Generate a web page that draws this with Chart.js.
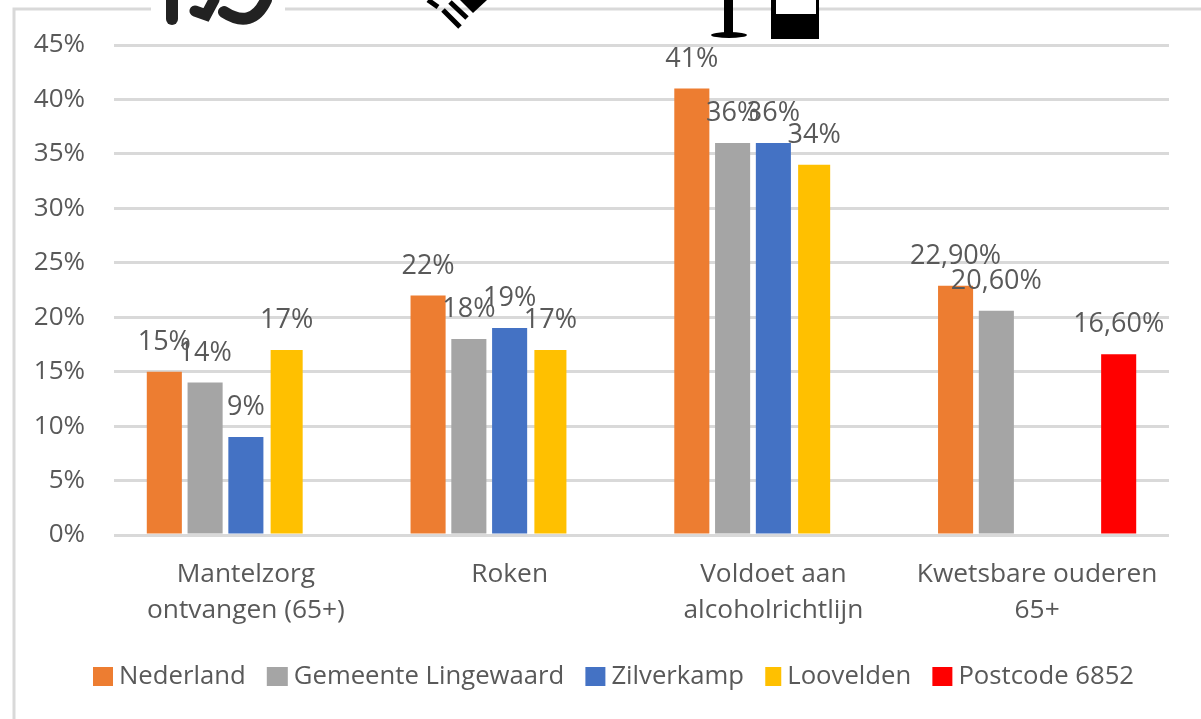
<!DOCTYPE html>
<html><head><meta charset="utf-8">
<style>html,body{margin:0;padding:0;background:#fff}canvas{display:block}#w{width:1201px;height:719px;position:relative}</style>
<script src="https://cdn.jsdelivr.net/npm/chart.js@4"></script></head>
<body><div id="w"><canvas id="c" width="1201" height="719"></canvas></div>
<script>
const categories=[["Mantelzorg","ontvangen (65+)"],"Roken",["Voldoet aan","alcoholrichtlijn"],["Kwetsbare ouderen","65+"]];
const seriesNames=["Nederland","Gemeente Lingewaard","Zilverkamp","Loovelden","Postcode 6852"];
const seriesColors=["#ED7D31","#A5A5A5","#4472C4","#FFC000","#FF0000"];
const nederland=[15,22,41,22.9];
const lingewaard=[14,18,36,20.6];
const zilverkamp=[9,19,36,null];
const loovelden=[17,17,34,null];
const postcode=[null,null,null,16.6];
const labelTexts=[["15%","22%","41%","22,90%"],["14%","18%","36%","20,60%"],["9%","19%","36%",""],["17%","17%","34%",""],["","","","16,60%"]];
const yTicks=[0,5,10,15,20,25,30,35,40,45];
const values=[nederland,lingewaard,zilverkamp,loovelden,postcode];
const FONT='"Open Sans"';
const TEXT='#595959';
const datalabels={id:'dl',afterDatasetsDraw(ch){const x=ch.ctx;x.save();x.font='27px '+FONT;x.fillStyle=TEXT;x.textAlign='center';x.textBaseline='middle';
 ch.data.datasets.forEach((d,i)=>{ch.getDatasetMeta(i).data.forEach((b,j)=>{if(d.data[j]==null)return;x.fillText(labelTexts[i][j],b.x,b.y-29.5);});});x.restore();}};
const legendBox={id:'legendBox',afterDraw(ch){const x=ch.ctx;x.save();x.font='25.7px '+FONT;x.textBaseline='middle';x.textAlign='left';
 const bw=[20,21,20,16,20];let cx=93;
 const tw=seriesNames.map(n=>x.measureText(n).width);
 const total=tw.reduce((a,b)=>a+b,0)+bw.reduce((a,b)=>a+b,0)+5*7;
 const gap=(1042-total)/4;
 seriesNames.forEach((n,i)=>{x.fillStyle=seriesColors[i];x.fillRect(cx,667,bw[i],19);x.fillStyle=TEXT;x.fillText(n,cx+bw[i]+6,677);cx+=bw[i]+7+tw[i]+gap;});x.restore();}};
const frame={id:'frame',beforeDraw(ch){const x=ch.ctx;x.save();x.fillStyle='#fff';x.fillRect(0,0,1201,719);
 x.strokeStyle='#d9d9d9';x.lineWidth=3;x.beginPath();x.moveTo(14,719);x.lineTo(14,9);x.lineTo(151,9);x.moveTo(285,9);x.lineTo(1201,9);x.stroke();
 x.lineCap='round';x.strokeStyle='#222';x.lineWidth=12;
 x.beginPath();x.moveTo(172,0);x.lineTo(172,19);x.stroke();
 x.lineWidth=11;x.beginPath();x.moveTo(195,11);x.lineTo(206,15);x.lineTo(214,0);x.stroke();
 x.lineWidth=12;x.beginPath();x.moveTo(224,12);x.quadraticCurveTo(252,30,266,0);x.stroke();
 x.lineCap='butt';x.strokeStyle='#000';x.fillStyle='#000';x.lineWidth=5;
 x.beginPath();x.moveTo(428,0);x.lineTo(438,7);x.moveTo(443,10);x.lineTo(460,27);x.moveTo(450,2);x.lineTo(467,18);x.stroke();
 x.beginPath();x.moveTo(460,0);x.lineTo(487,0);x.lineTo(473,13);x.fill();
 x.fillRect(724,0,9,34);x.beginPath();x.ellipse(729,35,18,3,0,0,7);x.fill();
 x.fillRect(771,0,48,39);x.fillStyle='#fff';x.fillRect(776,0,40,14);
 x.restore();}};
new Chart(document.getElementById('c'),{type:'bar',
 data:{labels:categories,datasets:seriesNames.map((n,i)=>({label:n,data:values[i],backgroundColor:seriesColors[i],categoryPercentage:0.773,barPercentage:i==3?0.786:0.86}))},
 plugins:[frame,datalabels,legendBox],
 options:{responsive:false,animation:false,
  layout:{padding:{left:0,right:32,top:45,bottom:0}},
  plugins:{tooltip:{enabled:false},legend:{display:false}},
  scales:{x:{afterFit(s){s.height=184;},grid:{display:false},border:{display:false},ticks:{color:TEXT,font:{family:FONT,size:26.3,lineHeight:36/26.3},maxRotation:0,padding:14}},
   y:{min:0,max:45,afterFit(s){s.width=114;},afterBuildTicks(a){a.ticks=yTicks.map(v=>({value:v}));},grid:{color:'#d9d9d9',lineWidth:3,drawTicks:false},border:{display:false},
    ticks:{color:TEXT,font:{family:FONT,size:26},padding:29,callback:v=>v+'%'}}}}});
</script></body></html>
